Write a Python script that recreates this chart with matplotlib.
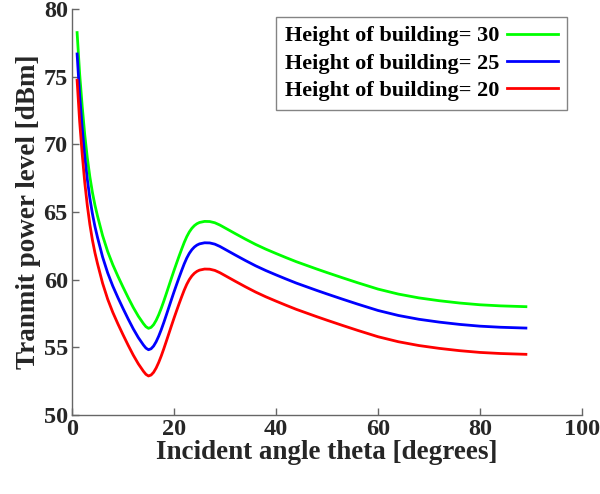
import matplotlib
matplotlib.use("Agg")
import matplotlib.pyplot as plt

# Incident angle samples (degrees)
theta = [1, 1.5, 2, 2.5, 3, 3.5, 4, 4.5, 5, 6, 7, 8, 9, 10, 11, 12, 13, 14,
         14.5, 15, 15.5, 16, 16.5, 17, 17.5, 18, 18.5, 19, 19.5, 20, 20.5, 21,
         21.5, 22, 22.5, 23, 23.5, 24, 24.5, 25, 26, 27, 28, 29, 30, 31, 32,
         34, 36, 38, 40, 42, 44, 46, 48, 50, 53, 56, 60, 64, 68, 72, 76, 80,
         84, 89]

# Transmit power level [dBm] for each building height
power_h30 = [78.25, 75.2, 72.8, 70.7, 69.0, 67.6, 66.45, 65.5, 64.7, 63.25,
             62.07, 61.1, 60.25, 59.45, 58.68, 57.95, 57.3, 56.75, 56.52, 56.4,
             56.47, 56.67, 56.99, 57.4, 57.88, 58.41, 58.97, 59.54, 60.11, 60.67,
             61.21, 61.74, 62.25, 62.74, 63.17, 63.52, 63.79, 63.99, 64.13, 64.22,
             64.3, 64.29, 64.2, 64.03, 63.82, 63.61, 63.4, 62.99, 62.6, 62.25,
             61.93, 61.62, 61.32, 61.05, 60.78, 60.52, 60.14, 59.77, 59.3, 58.93,
             58.65, 58.44, 58.27, 58.14, 58.06, 58.0]
power_h25 = [76.67, 73.62, 71.22, 69.12, 67.42, 66.02, 64.87, 63.92, 63.12, 61.67,
             60.49, 59.52, 58.67, 57.87, 57.10, 56.37, 55.72, 55.17, 54.94, 54.82,
             54.89, 55.09, 55.41, 55.82, 56.30, 56.83, 57.39, 57.96, 58.53, 59.09,
             59.63, 60.16, 60.67, 61.16, 61.59, 61.94, 62.21, 62.41, 62.55, 62.64,
             62.72, 62.71, 62.62, 62.45, 62.24, 62.03, 61.82, 61.41, 61.02, 60.67,
             60.35, 60.04, 59.74, 59.47, 59.20, 58.94, 58.56, 58.19, 57.72, 57.35,
             57.07, 56.86, 56.69, 56.56, 56.48, 56.42]
power_h20 = [74.73, 71.68, 69.28, 67.18, 65.48, 64.08, 62.93, 61.98, 61.18, 59.73,
             58.55, 57.58, 56.73, 55.93, 55.16, 54.43, 53.78, 53.23, 53.00, 52.88,
             52.95, 53.15, 53.47, 53.88, 54.36, 54.89, 55.45, 56.02, 56.59, 57.15,
             57.69, 58.22, 58.73, 59.22, 59.65, 60.00, 60.27, 60.47, 60.61, 60.70,
             60.78, 60.77, 60.68, 60.51, 60.30, 60.09, 59.88, 59.47, 59.08, 58.73,
             58.41, 58.10, 57.80, 57.53, 57.26, 57.00, 56.62, 56.25, 55.78, 55.41,
             55.13, 54.92, 54.75, 54.62, 54.54, 54.48]

labels = ["Height of building= 30", "Height of building= 25", "Height of building= 20"]
colors = ["#00ff00", "#0000ff", "#ff0000"]

plt.rcParams["font.family"] = "Liberation Serif"
plt.rcParams["font.weight"] = "bold"

fig = plt.figure(figsize=(6, 4.94), dpi=100)
ax = fig.add_axes([0.12, 0.16, 0.85, 0.822])

for series, label, color in zip([power_h30, power_h25, power_h20], labels, colors):
    ax.plot(theta, series, color=color, linewidth=2.0, label=label,
            solid_joinstyle="round")

ax.set_xlim(0, 100)
ax.set_ylim(50, 80)
ax.set_xticks([0, 20, 40, 60, 80, 100])
ax.set_yticks([50, 55, 60, 65, 70, 75, 80])

# open box with inward ticks
ax.spines["top"].set_visible(False)
ax.spines["right"].set_visible(False)
for side in ["left", "bottom"]:
    ax.spines[side].set_color("#666666")
    ax.spines[side].set_linewidth(1.0)
ax.tick_params(direction="in", length=5, width=1.0, color="#666666",
               labelsize=17.5, labelcolor="#262626", pad=3)
for lbl in ax.get_xticklabels() + ax.get_yticklabels():
    lbl.set_fontweight("bold")

ax.set_xlabel("Incident angle theta [degrees]", fontsize=19.5, fontweight="bold",
              color="#262626", labelpad=0)
ax.set_ylabel("Tranmit power level [dBm]", fontsize=19.5, fontweight="bold",
              color="#262626", labelpad=2)

leg = ax.legend(loc="upper right", bbox_to_anchor=(0.97, 0.98), markerfirst=False,
                prop={"size": 16, "weight": "bold"}, fancybox=False,
                handlelength=2.3, handletextpad=0.35, labelspacing=0.3,
                borderpad=0.4, borderaxespad=0)
leg.get_frame().set_edgecolor("#666666")
leg.get_frame().set_linewidth(1.0)

fig.savefig("out.png", dpi=100)
